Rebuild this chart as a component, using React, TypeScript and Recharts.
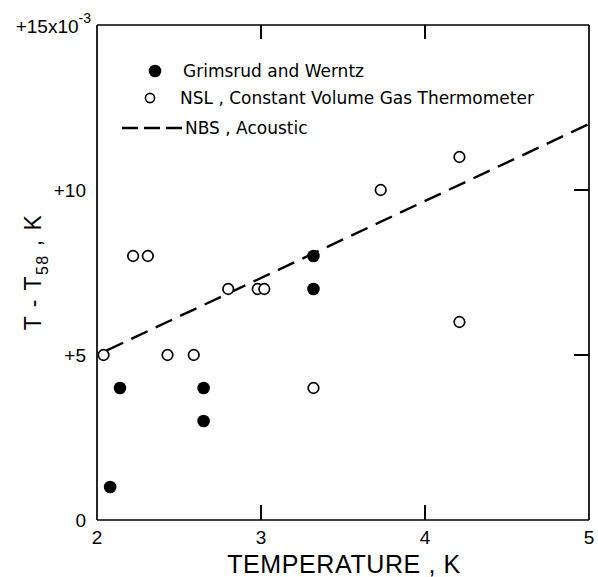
import {
  ComposedChart,
  Scatter,
  XAxis,
  YAxis,
  Legend,
  Label,
} from "recharts";

// temperature (K) vs T - T58 (units of 1e-3 K)
const grimsrudWerntz = [
  { t: 2.08, dT: 1 },
  { t: 2.14, dT: 4 },
  { t: 2.65, dT: 4 },
  { t: 2.65, dT: 3 },
  { t: 3.32, dT: 8 },
  { t: 3.32, dT: 7 },
];

const nslGasThermometer = [
  { t: 2.04, dT: 5 },
  { t: 2.22, dT: 8 },
  { t: 2.31, dT: 8 },
  { t: 2.43, dT: 5 },
  { t: 2.59, dT: 5 },
  { t: 2.8, dT: 7 },
  { t: 2.98, dT: 7 },
  { t: 3.02, dT: 7 },
  { t: 3.32, dT: 4 },
  { t: 3.73, dT: 10 },
  { t: 4.21, dT: 11 },
  { t: 4.21, dT: 6 },
];

const nbsAcoustic = [
  { t: 2.06, dT: 5.14 },
  { t: 5, dT: 12 },
];

const xTicks = [2, 3, 4, 5];
const yTicks = [0, 5, 10, 15];
const innerXTicks = [3, 4];
const innerYTicks = [5, 10];

const seriesNames = [
  "Grimsrud and Werntz",
  "NSL , Constant Volume Gas Thermometer",
  "NBS , Acoustic",
];

// inward tick marks on the frame (bottom, top, right edges)
const bottomTicks = innerXTicks.map((t) => ({ t, dT: 0 }));
const topTicks = innerXTicks.map((t) => ({ t, dT: 15 }));
const rightTicks = innerYTicks.map((dT) => ({ t: 5, dT }));

const INK = "#000";
const TICK_FONT = "'Liberation Sans', Arial, sans-serif";
const LEGEND_FONT = "'DejaVu Sans', sans-serif";

function FilledDot(props: any) {
  const { cx, cy } = props;
  return <circle cx={cx} cy={cy} r={6.3} fill={INK} />;
}

function OpenDot(props: any) {
  const { cx, cy } = props;
  return <circle cx={cx} cy={cy} r={5.3} fill="#fff" stroke={INK} strokeWidth={1.7} />;
}

function NoDot() {
  return <g />;
}

function UpTick(props: any) {
  const { cx, cy } = props;
  return <rect x={cx - 1} y={cy - 15} width={2} height={15} fill={INK} />;
}

function DownTick(props: any) {
  const { cx, cy } = props;
  return <rect x={cx - 1} y={cy} width={2} height={14} fill={INK} />;
}

function LeftTick(props: any) {
  const { cx, cy } = props;
  return <rect x={cx - 15} y={cy - 1} width={15} height={2} fill={INK} />;
}

function BottomTick(props: any) {
  const { x, y, payload } = props;
  return (
    <text x={x} y={y + 24} textAnchor="middle" fontSize={19} fontFamily={TICK_FONT} fill={INK}>
      {payload.value}
    </text>
  );
}

function YTick(props: any) {
  const { x, y, payload } = props;
  const v = payload.value;
  if (v === 15) {
    return (
      <text x={x + 5} y={y + 8} textAnchor="end" fontSize={19} fontFamily={TICK_FONT} fill={INK}>
        +15x10
        <tspan dy={-10} fontSize={14}>-3</tspan>
      </text>
    );
  }
  return (
    <text x={x} y={y + 7} textAnchor="end" fontSize={19} fontFamily={TICK_FONT} fill={INK}>
      {v === 0 ? "0" : `+${v}`}
    </text>
  );
}

function XTitle() {
  return (
    <text x={344} y={573} textAnchor="middle" fontSize={25} letterSpacing={0.6} fontFamily={TICK_FONT} fill={INK}>
      TEMPERATURE , K
    </text>
  );
}

function YTitle() {
  return (
    <text
      transform="translate(41, 272) rotate(-90)"
      textAnchor="middle"
      fontSize={23}
      letterSpacing={1.5}
      fontFamily={TICK_FONT}
      fill={INK}
    >
      T - T
      <tspan fontSize={16} dy={7}>58</tspan>
      <tspan dy={-7}> , K</tspan>
    </text>
  );
}

function LegendBox() {
  return (
    <svg width={598} height={150} style={{ display: "block" }}>
      <g fontFamily={LEGEND_FONT} fontSize={17} fill={INK}>
        <circle cx={155} cy={71} r={6.3} fill={INK} />
        <text x={183} y={77}>{seriesNames[0]}</text>
        <circle cx={150} cy={98} r={4.6} fill="#fff" stroke={INK} strokeWidth={1.6} />
        <text x={180} y={104}>{seriesNames[1]}</text>
        <line x1={122} y1={128} x2={183} y2={128} stroke={INK} strokeWidth={2.4} strokeDasharray="16 6" />
        <text x={185} y={134}>{seriesNames[2]}</text>
      </g>
    </svg>
  );
}

export default function App() {
  return (
    <div style={{ position: "absolute", left: 0, top: 0, width: 598, height: 577, background: "#fff" }}>
      <ComposedChart
        width={598}
        height={577}
        margin={{ top: 24, right: 8, bottom: 0, left: 0 }}
      >
        <XAxis
          dataKey="t"
          type="number"
          domain={[2, 5]}
          ticks={xTicks}
          height={57}
          axisLine={{ stroke: INK, strokeWidth: 1.7 }}
          tickLine={false}
          tickSize={0}
          tickMargin={0}
          tick={<BottomTick />}
        >
          <Label content={<XTitle />} />
        </XAxis>
        <XAxis
          xAxisId="top"
          orientation="top"
          dataKey="t"
          type="number"
          domain={[2, 5]}
          ticks={innerXTicks}
          height={1}
          axisLine={{ stroke: INK, strokeWidth: 1.7 }}
          tickLine={false}
          tick={false}
        />
        <YAxis
          dataKey="dT"
          type="number"
          domain={[0, 15]}
          ticks={yTicks}
          width={97}
          axisLine={{ stroke: INK, strokeWidth: 1.7 }}
          tickLine={false}
          tickMargin={5}
          tick={<YTick />}
        >
          <Label content={<YTitle />} />
        </YAxis>
        <YAxis
          yAxisId="right"
          orientation="right"
          dataKey="dT"
          type="number"
          domain={[0, 15]}
          ticks={innerYTicks}
          width={1}
          axisLine={{ stroke: INK, strokeWidth: 1.7 }}
          tickLine={false}
          tick={false}
        />
        <Legend
          layout="vertical"
          align="center"
          verticalAlign="middle"
          wrapperStyle={{ left: 0, top: 0, width: 598, height: 150 }}
          content={<LegendBox />}
        />
        <Scatter name="bottom ticks" legendType="none" data={bottomTicks} fill={INK} shape={<UpTick />} isAnimationActive={false} />
        <Scatter name="top ticks" legendType="none" data={topTicks} fill={INK} shape={<DownTick />} isAnimationActive={false} />
        <Scatter name="right ticks" legendType="none" data={rightTicks} fill={INK} shape={<LeftTick />} isAnimationActive={false} />
        <Scatter
          name={seriesNames[2]}
          data={nbsAcoustic}
          fill={INK}
          line={{ stroke: INK, strokeWidth: 2.4, strokeDasharray: "18 9" }}
          shape={<NoDot />}
          isAnimationActive={false}
        />
        <Scatter
          name={seriesNames[1]}
          data={nslGasThermometer}
          fill="#fff"
          shape={<OpenDot />}
          isAnimationActive={false}
        />
        <Scatter
          name={seriesNames[0]}
          data={grimsrudWerntz}
          fill={INK}
          shape={<FilledDot />}
          isAnimationActive={false}
        />
      </ComposedChart>
    </div>
  );
}
